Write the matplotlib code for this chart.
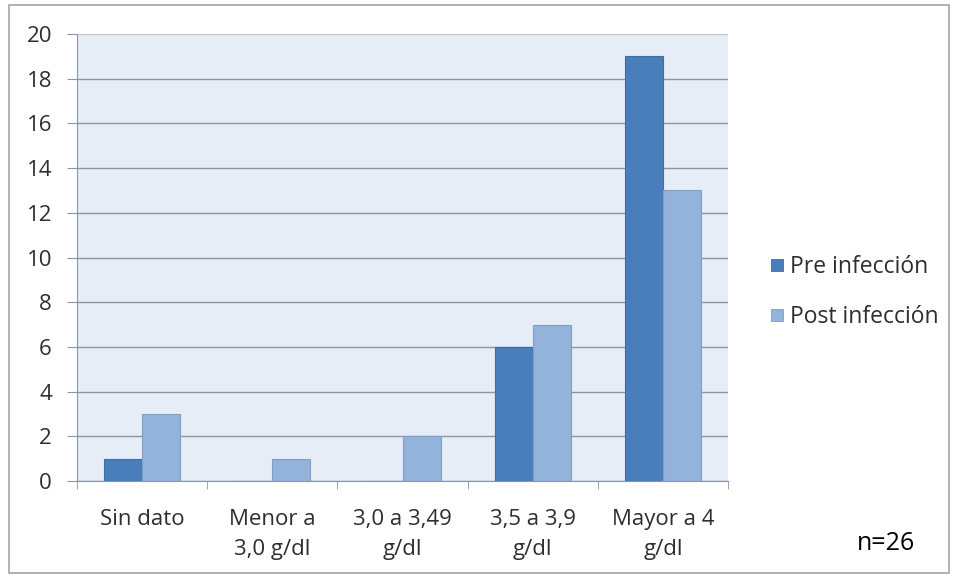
import matplotlib
matplotlib.use("Agg")
import matplotlib.pyplot as plt
import numpy as np
from matplotlib.patches import Rectangle
from matplotlib.lines import Line2D

categories = ["Sin dato", "Menor a\n3,0 g/dl", "3,0 a 3,49\ng/dl", "3,5 a 3,9\ng/dl", "Mayor a 4\ng/dl"]
pre_infeccion = [1, 0, 0, 6, 19]
post_infeccion = [3, 1, 2, 7, 13]
series_names = ["Pre infección", "Post infección"]
y_ticks = [0, 2, 4, 6, 8, 10, 12, 14, 16, 18, 20]

pre_color, pre_edge = "#4a7ebb", "#3f6da3"
post_color, post_edge = "#93b3da", "#7f9fc6"

W, H = 956, 576
fig = plt.figure(figsize=(W / 100, H / 100), dpi=100)
fig.patch.set_facecolor("white")

# outer chart border
fig.patches.append(Rectangle((9 / W, 1 - 573 / H), (949 - 9) / W, (573 - 5) / H,
                             transform=fig.transFigure, fill=False,
                             edgecolor="#a6a6a6", linewidth=1.2))

ax = fig.add_axes([77 / W, 1 - 481 / H, (728 - 77) / W, (481 - 34) / H])
ax.set_facecolor("#e7edf6")

x = np.arange(len(categories))
bw = 0.292
ax.bar(x - bw / 2, pre_infeccion, width=bw, color=pre_color, edgecolor=pre_edge,
       linewidth=0.8, zorder=3)
ax.bar(x + bw / 2, post_infeccion, width=bw, color=post_color, edgecolor=post_edge,
       linewidth=0.8, zorder=3)

ax.set_xlim(-0.5, len(categories) - 0.5)
ax.set_ylim(0, 20)
ax.set_yticks(y_ticks)
ax.yaxis.grid(True, color="#8a96a3", linewidth=1.0, zorder=1)
ax.get_ygridlines()[-1].set_color("#c4c8cc")
ax.set_axisbelow(True)

font = "Open Sans"
txt_color = "#2e2e2e"
ax.set_yticklabels([str(v) for v in y_ticks], fontsize=16, color=txt_color, family=font)
ax.tick_params(axis="y", length=7, color="#8a96a3", pad=11)

# category labels and boundary ticks
ax.set_xticks(x)
ax.set_xticklabels(categories, fontsize=16, color=txt_color, family=font, linespacing=1.55)
ax.tick_params(axis="x", length=0, pad=20)
ax.set_xticks(np.arange(-0.5, len(categories)), minor=True)
ax.tick_params(axis="x", which="minor", length=6, color="#8a96a3")

for s in ["top", "right"]:
    ax.spines[s].set_visible(False)
ax.spines["left"].set_color("#8a96a3")
ax.spines["bottom"].set_color("#8a96a3")

# square legend keys
handles = [
    Line2D([], [], linestyle="none", marker="s", markersize=8,
           markerfacecolor=pre_color, markeredgecolor=pre_edge, markeredgewidth=0.6),
    Line2D([], [], linestyle="none", marker="s", markersize=8,
           markerfacecolor=post_color, markeredgecolor=post_edge, markeredgewidth=0.6),
]
fig.legend(handles, series_names, loc="center left",
           bbox_to_anchor=(771 / W, 1 - 292 / H),
           frameon=False, prop={"family": font, "size": 16.5},
           borderpad=0, borderaxespad=0,
           handlelength=0.5, handletextpad=0.35,
           labelspacing=1.1, labelcolor=txt_color)

fig.text(857 / W, 1 - 543 / H, "n=26", fontsize=18, family=font, color="black",
         va="center", ha="left")

fig.savefig("out.png", dpi=100)
